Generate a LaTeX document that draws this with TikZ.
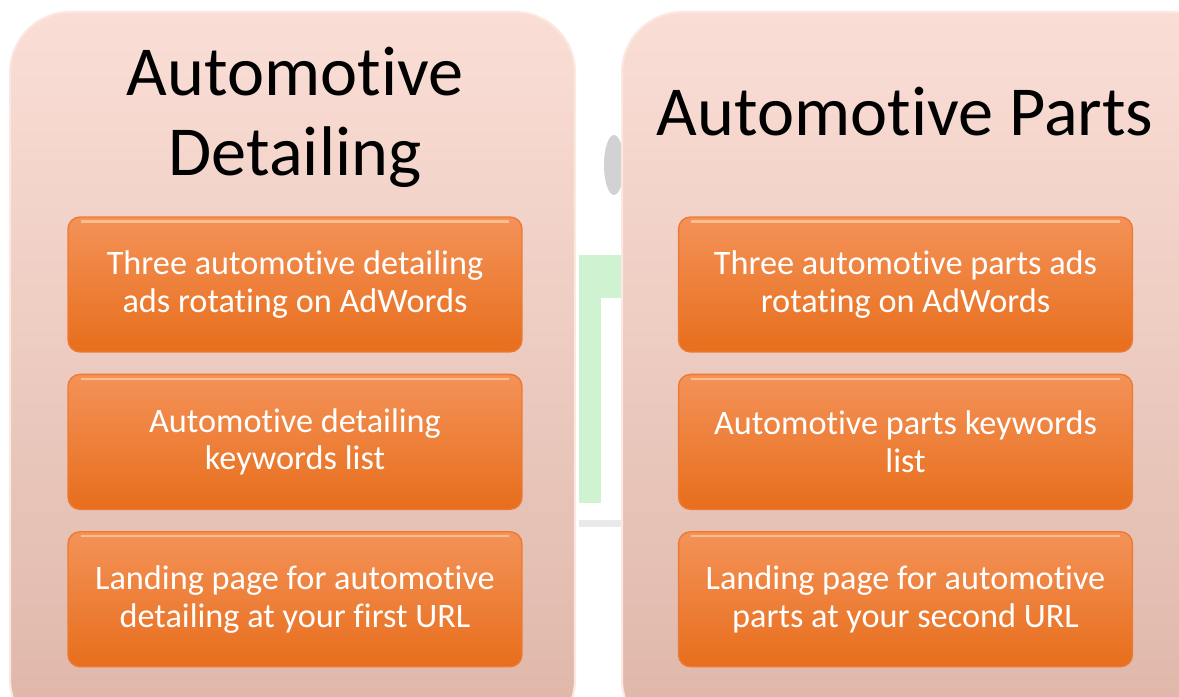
\documentclass[tikz,border=0pt]{standalone}
\usepackage{fontspec}
\setmainfont{Carlito}[Ligatures={NoCommon,NoRare,NoContextual}, RawFeature={-liga;-clig;-calt;-dlig}]
\usepackage{tikz}
\usetikzlibrary{positioning}
\definecolor{panelTop}{RGB}{250,222,214}
\definecolor{panelBottom}{RGB}{222,182,168}
\definecolor{panelEdge}{RGB}{252,232,225}
\definecolor{boxTop}{RGB}{244,146,88}
\definecolor{boxBottom}{RGB}{231,110,28}
\definecolor{boxEdge}{RGB}{236,122,50}
\definecolor{boxShine}{RGB}{250,190,140}
\definecolor{ghostGreen}{RGB}{207,242,208}
\definecolor{ghostGrey}{RGB}{210,210,210}
\tikzstyle{panel} = [rectangle, rounded corners=1.2cm, minimum height=14.56cm, top color=panelTop, bottom color=panelBottom, draw=panelEdge, line width=1.2pt]
\tikzstyle{panelTitle} = [text=black, align=center, font=\fontsize{40}{45}\selectfont]
\tikzstyle{itemBox} = [rectangle, rounded corners=0.24cm, minimum width=9.08cm, minimum height=2.7cm, top color=boxTop, bottom color=boxBottom, draw=boxEdge, line width=0.8pt, text=white, align=center, font=\fontsize{19.5}{21.5}\selectfont,
    path picture={\draw[boxShine, line width=1.2pt] ([xshift=0.25cm, yshift=-0.09cm]path picture bounding box.north west) -- ([xshift=-0.25cm, yshift=-0.09cm]path picture bounding box.north east);}]

\begin{document}
\begin{tikzpicture}[x=0.02cm, y=-0.02cm, node distance=0.42cm]
                        \useasboundingbox (0,0) rectangle (1179,696);
                        \clip (0,0) rectangle (1179,696);
                        % faint leftovers of the picture behind
                        \fill[ghostGreen] (579,255) rectangle (625,298);
                        \fill[ghostGreen] (579,298) rectangle (601,503);
                        \fill[ghostGrey!50] (579,520) rectangle (625,527);
                        \fill[ghostGrey] (614,165) ellipse (10 and 30);
                        % panels
                        \node (detail) [panel, minimum width=11.3cm] at (292.5,376) {};
                        \node (parts) [panel, minimum width=12.16cm] at (926,376) {};
                        \node (detailTitle) [panelTitle, anchor=base] at (295,175) {Automotive\\Detailing};
                        \node (partsTitle) [panelTitle, anchor=base] at (905,135) {Automotive Parts};
                        % left column
                        \node (detailAds) [itemBox] at (295,284.5) {Three automotive detailing\\ads rotating on AdWords};
                        \node (detailKeys) [itemBox, below=of detailAds] {Automotive detailing\\keywords list};
                        \node (detailPage) [itemBox, below=of detailKeys] {Landing page for automotive\\detailing at your first URL};
                        % right column
                        \node (partsAds) [itemBox] at (905.5,284.5) {Three automotive parts ads\\rotating on AdWords};
                        \node (partsKeys) [itemBox, below=of partsAds] {Automotive parts keywords\\list};
                        \node (partsPage) [itemBox, below=of partsKeys] {Landing page for automotive\\parts at your second URL};
                    \end{tikzpicture}
\end{document}
